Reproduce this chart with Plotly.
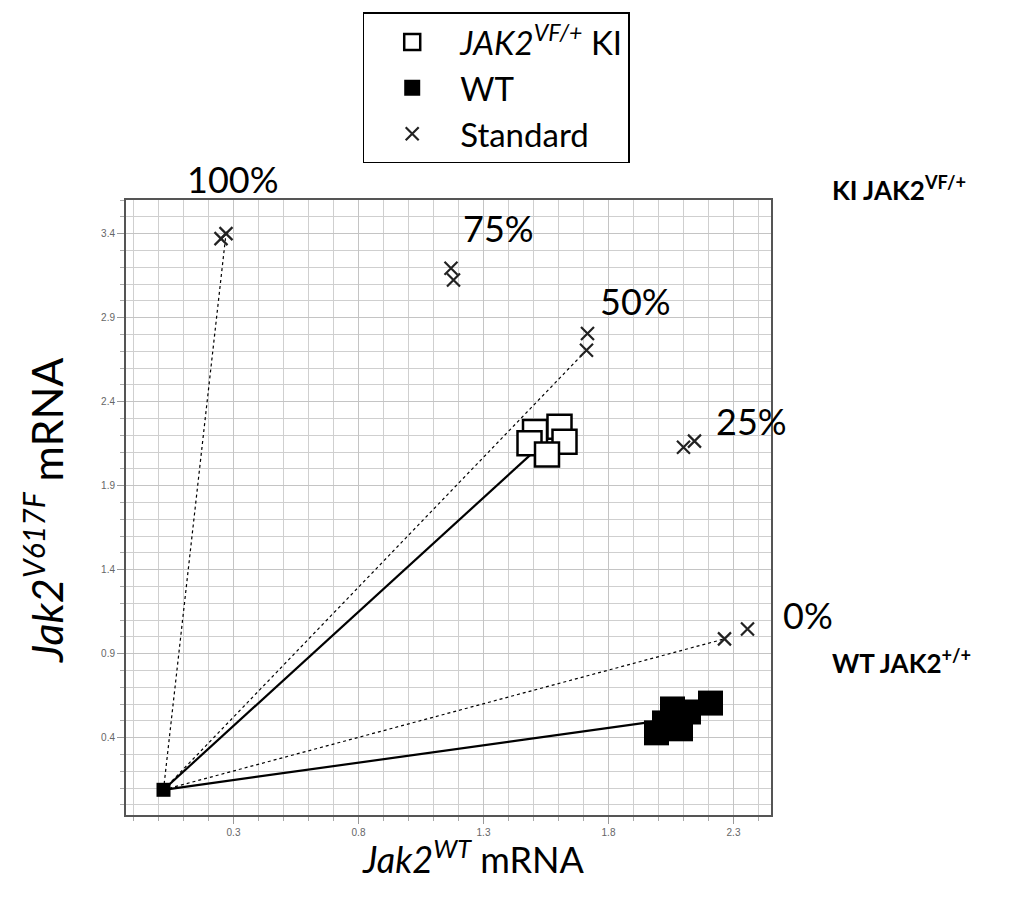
import numpy as np
import plotly.graph_objects as go

# ---- data ----
origin_x = [0.02]
origin_y = [0.09]

std_labels = ["100%", "100%", "75%", "75%", "50%", "50%", "25%", "25%", "0%", "0%"]
std_x = [0.27, 0.25, 1.17, 1.18, 1.716, 1.712, 2.10, 2.144, 2.264, 2.356]
std_y = [3.40, 3.37, 3.194, 3.124, 2.806, 2.706, 2.129, 2.165, 0.988, 1.047]
dotted_targets = [0, 5, 8]  # standards joined to the origin by a dotted line

ki_x = [1.506, 1.604, 1.624, 1.484, 1.554]
ki_y = [2.22, 2.25, 2.162, 2.153, 2.085]

wt_x = [1.992, 2.024, 2.056, 2.088, 2.12, 2.208]
wt_y = [0.429, 0.488, 0.571, 0.453, 0.553, 0.606]

x_ticks = [0.3, 0.8, 1.3, 1.8, 2.3]
y_ticks = [0.4, 0.9, 1.4, 1.9, 2.4, 2.9, 3.4]

FONT = "Lato"
fig = go.Figure()

# dotted lines to standards
dx, dy = [], []
for i in dotted_targets:
    dx += [origin_x[0], std_x[i], None]
    dy += [origin_y[0], std_y[i], None]
fig.add_trace(go.Scatter(x=dx, y=dy, mode="lines", showlegend=False, hoverinfo="skip",
                         line=dict(color="black", width=1.2, dash="dot")))

# solid lines to group means
sx = [origin_x[0], float(np.mean(ki_x)), None, origin_x[0], float(np.mean(wt_x))]
sy = [origin_y[0], float(np.mean(ki_y)), None, origin_y[0], float(np.mean(wt_y))]
fig.add_trace(go.Scatter(x=sx, y=sy, mode="lines", showlegend=False, hoverinfo="skip",
                         line=dict(color="black", width=2.2)))

fig.add_trace(go.Scatter(x=ki_x, y=ki_y, mode="markers",
                         name="<i>JAK2<sup>VF/+</sup></i> KI",
                         marker=dict(symbol="square", size=24, color="white",
                                     line=dict(color="black", width=2.5))))
fig.add_trace(go.Scatter(x=wt_x, y=wt_y, mode="markers", name="WT",
                         marker=dict(symbol="square", size=25, color="black",
                                     line=dict(color="black", width=0))))
fig.add_trace(go.Scatter(x=std_x, y=std_y, mode="markers", name="Standard",
                         text=std_labels,
                         marker=dict(symbol="x-thin", size=13, color="#222",
                                     line=dict(color="#222", width=2.2))))
fig.add_trace(go.Scatter(x=origin_x, y=origin_y, mode="markers", showlegend=False,
                         marker=dict(symbol="square", size=14, color="black")))

axis_common = dict(
    showline=True, linecolor="#555", linewidth=2, mirror=True,
    showgrid=True, gridcolor="#c4c4c4", gridwidth=1,
    ticks="outside", ticklen=7, tickcolor="#999", tickwidth=1,
    tickfont=dict(family="Liberation Sans", size=10, color="#666"),
    minor=dict(dtick=0.1, showgrid=True, gridcolor="#cfcfcf", gridwidth=1,
               ticks="outside", ticklen=4, tickcolor="#aaa"),
    zeroline=False, fixedrange=True,
)
fig.update_xaxes(range=[-0.13, 2.45], tickvals=x_ticks,
                 ticktext=[f"{v:.1f}" for v in x_ticks], **axis_common)
fig.update_xaxes(minor=dict(tick0=-0.1))
fig.update_yaxes(range=[-0.06, 3.6], tickvals=y_ticks,
                 ticktext=[f"{v:.1f}" for v in y_ticks], **axis_common)
fig.update_yaxes(minor=dict(tick0=0.0))

ann = [
    dict(text="100%", x=0.166, y=1.034),
    dict(text="75%", x=0.578, y=0.955),
    dict(text="50%", x=0.790, y=0.836),
    dict(text="25%", x=0.970, y=0.640),
    dict(text="0%", x=1.058, y=0.325),
]
annotations = [dict(text=a["text"], x=a["x"], y=a["y"], xref="paper", yref="paper",
                    showarrow=False, xanchor="center", yanchor="middle",
                    font=dict(family=FONT, size=36, color="black")) for a in ann]
annotations += [
    dict(text="<b>KI JAK2<sup>VF/+</sup></b>", x=1.091, y=1.018, xref="paper", yref="paper",
         showarrow=False, xanchor="left", yanchor="middle",
         font=dict(family=FONT, size=26, color="black")),
    dict(text="<b>WT JAK2<sup>+/+</sup></b>", x=1.091, y=0.250, xref="paper", yref="paper",
         showarrow=False, xanchor="left", yanchor="middle",
         font=dict(family=FONT, size=26, color="black")),
    dict(text="<i>Jak2<sup>WT</sup></i> mRNA", x=0.538, y=-0.069, xref="paper", yref="paper",
         showarrow=False, xanchor="center", yanchor="middle",
         font=dict(family=FONT, size=36, color="black")),
    dict(text="<i>Jak2<sup>V617F</sup></i> mRNA", x=-0.128, y=0.495, xref="paper", yref="paper",
         showarrow=False, xanchor="center", yanchor="middle", textangle=-90,
         font=dict(family=FONT, size=43, color="black")),
]

fig.update_layout(
    width=1010, height=901,
    margin=dict(l=126, r=239, t=193, b=86),
    paper_bgcolor="white", plot_bgcolor="white",
    annotations=annotations,
    showlegend=True,
    legend=dict(x=0.367, y=1.305, xanchor="left", yanchor="top",
                bgcolor="white", bordercolor="black", borderwidth=1.5,
                font=dict(family=FONT, size=33, color="black"),
                itemwidth=86, tracegroupgap=0),
)

fig.write_html("out.html", config={"displayModeBar": False},
               post_script="document.body.style.margin='0';")
